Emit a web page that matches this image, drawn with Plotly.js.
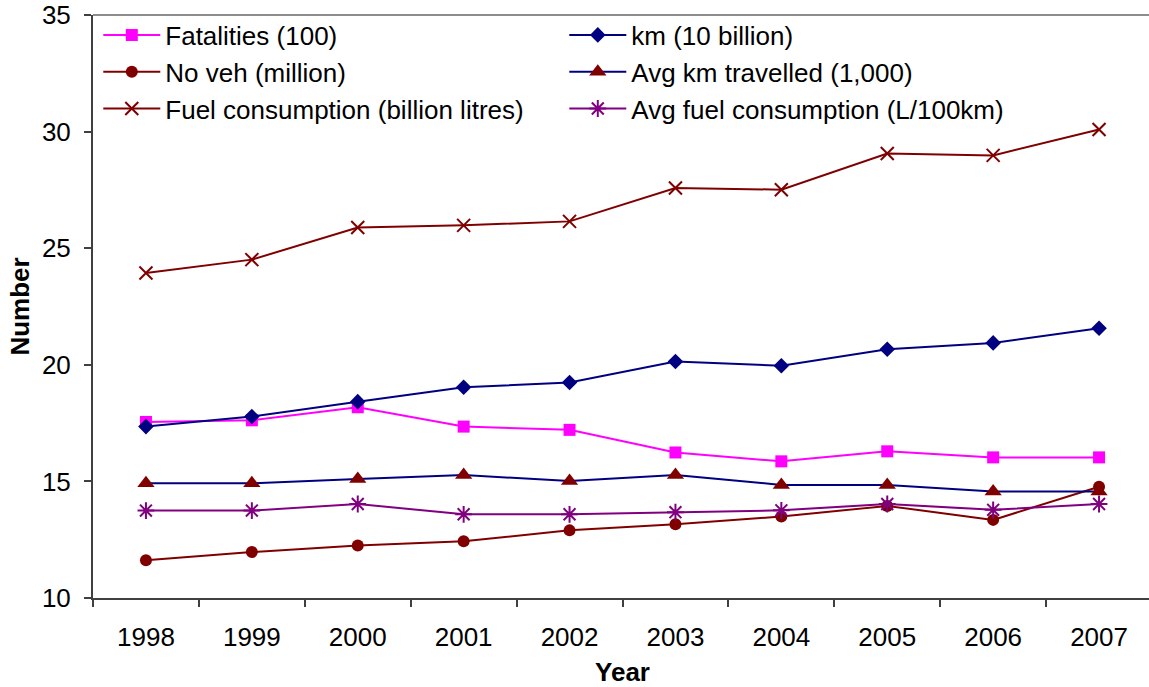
<!DOCTYPE html>
<html>
<head>
<meta charset="utf-8">
<script src="https://cdn.plot.ly/plotly-3.0.1.min.js"></script>
<style>
  html, body { margin: 0; padding: 0; background: #fff; overflow: hidden; }
  #chart { width: 1152px; height: 687px; }
</style>
</head>
<body>
<div id="chart"></div>
<script>
// Road transport indicators, 1998-2007
const years = ['1998', '1999', '2000', '2001', '2002', '2003', '2004', '2005', '2006', '2007'];

const fatalities = [17.55, 17.62, 18.18, 17.35, 17.21, 16.24, 15.86, 16.29, 16.03, 16.03];
const kmTravelled = [17.35, 17.78, 18.42, 19.04, 19.24, 20.14, 19.96, 20.67, 20.94, 21.57];
const vehicles = [11.62, 11.97, 12.25, 12.43, 12.90, 13.16, 13.49, 13.95, 13.35, 14.77];
const avgKm = [14.92, 14.92, 15.10, 15.27, 15.02, 15.27, 14.85, 14.85, 14.57, 14.57];
const fuelUse = [23.94, 24.51, 25.89, 25.98, 26.15, 27.58, 27.51, 29.06, 28.98, 30.09];
const avgFuel = [13.75, 13.75, 14.03, 13.59, 13.59, 13.68, 13.76, 14.03, 13.78, 14.03];

const MAGENTA = '#FF00FF', NAVY = '#000080', MAROON = '#800000', PURPLE = '#800080';

function series(name, y, lineColor, symbol, markerColor, size, open) {
  const marker = { symbol: symbol, size: size, color: markerColor };
  if (open) marker.line = { color: markerColor, width: 2 };
  return {
    type: 'scatter', mode: 'lines+markers', name: name,
    x: years, y: y,
    line: { color: lineColor, width: 2 },
    marker: marker,
    cliponaxis: false
  };
}

// Order gives a two-column legend read row by row
const traces = [
  series('Fatalities (100)', fatalities, MAGENTA, 'square', MAGENTA, 12, false),
  series('km (10 billion)', kmTravelled, NAVY, 'diamond', NAVY, 12, false),
  series('No veh (million)', vehicles, MAROON, 'circle', MAROON, 12, false),
  series('Avg km travelled (1,000)', avgKm, NAVY, 'triangle-up', MAROON, 15, false),
  series('Fuel consumption (billion litres)', fuelUse, MAROON, 'x-thin-open', MAROON, 13, true),
  series('Avg fuel consumption (L/100km)', avgFuel, PURPLE, 'asterisk-open', PURPLE, 14, true)
];

const FONT = 'Liberation Sans, Arial, sans-serif';

const layout = {
  width: 1152, height: 687,
  margin: { l: 93, r: 0, t: 15, b: 89 },
  paper_bgcolor: '#fff', plot_bgcolor: '#fff',
  font: { family: FONT, size: 26, color: '#000' },
  showlegend: true,
  legend: {
    orientation: 'h', x: 0.005, y: 1.006, xanchor: 'left', yanchor: 'top',
    entrywidth: 394, entrywidthmode: 'pixels',
    itemwidth: 57, bgcolor: 'rgba(0,0,0,0)',
    font: { family: FONT, size: 26, color: '#000' }
  },
  xaxis: {
    type: 'category', range: [-0.5, 9.5], autorange: false,
    showgrid: false, zeroline: false,
    showline: true, linecolor: '#404040', linewidth: 2,
    ticks: 'outside', tickson: 'boundaries', ticklen: 7, tickcolor: '#404040', tickwidth: 2,
    ticklabelstandoff: 15,
    tickfont: { family: FONT, size: 26, color: '#000' },
    title: { text: '<b>Year</b>', font: { family: FONT, size: 26, color: '#000' }, standoff: 17 }
  },
  yaxis: {
    range: [10, 35], autorange: false, dtick: 5,
    showgrid: false, zeroline: false,
    showline: true, linecolor: '#404040', linewidth: 2,
    ticks: 'outside', ticklen: 7, tickcolor: '#404040', tickwidth: 2,
    ticklabelstandoff: 8,
    tickfont: { family: FONT, size: 26, color: '#000' },
    title: { text: '<b>Number</b>', font: { family: FONT, size: 26, color: '#000' }, standoff: 5 }
  },
  shapes: [
    { type: 'line', xref: 'paper', yref: 'paper', x0: 0, x1: 1, y0: 1, y1: 1,
      line: { color: '#8c8c8c', width: 2 } }
  ]
};

Plotly.newPlot('chart', traces, layout, { staticPlot: true, displayModeBar: false });
</script>
</body>
</html>
